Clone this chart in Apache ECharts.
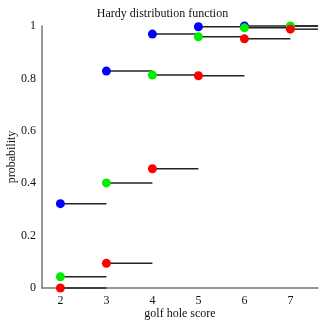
<!DOCTYPE html>
<html><head><meta charset="utf-8">
<script src="https://cdn.jsdelivr.net/npm/echarts@6/dist/echarts.min.js"></script>
<style>html,body{margin:0;padding:0;background:#fff}#c{width:325px;height:325px}</style>
</head><body><div id="c"></div>
<script>
var scores = [2, 3, 4, 5, 6, 7];
var xTicks = ['2', '3', '4', '5', '6', '7'];
var yTicks = ['0', '0.2', '0.4', '0.6', '0.8', '1'];
var blueVals = [0.322, 0.828, 0.969, 0.997, 1.0];
var greenVals = [0.043, 0.401, 0.813, 0.959, 0.993, 1.0];
var redVals = [0.0, 0.094, 0.455, 0.810, 0.951, 0.988];
var xMin = 1.6, xMax = 7.6;

function segs(vals) {
  return vals.map(function (v, i) {
    var x2 = i < vals.length - 1 ? scores[i + 1] : xMax;
    return [scores[i], x2, v];
  });
}
function pts(vals) { return vals.map(function (v, i) { return [scores[i], v]; }); }

function lineSeries(vals, z) {
  return {
    type: 'custom', z: z, silent: true,
    data: segs(vals),
    encode: { x: [0, 1], y: 2 },
    renderItem: function (params, api) {
      var a = api.coord([api.value(0), api.value(2)]);
      var b = api.coord([api.value(1), api.value(2)]);
      return { type: 'line', shape: { x1: a[0], y1: a[1], x2: b[0], y2: b[1] },
        style: { stroke: '#222', lineWidth: 1.5 } };
    }
  };
}
function dotSeries(vals, color, z) {
  return { type: 'scatter', z: z, data: pts(vals), symbolSize: 9,
    itemStyle: { color: color, opacity: 1 } };
}

var font = 'Liberation Serif';
var chart = echarts.init(document.getElementById('c'), null, { renderer: 'canvas' });
chart.setOption({
  animation: false,
  title: { text: 'Hardy distribution function', left: 'center', top: 3,
    textStyle: { fontFamily: font, fontSize: 12, fontWeight: 'normal', color: '#111' } },
  grid: { left: 42, right: 7, top: 26, bottom: 37, outerBoundsMode: 'none', containLabel: false },
  xAxis: {
    type: 'value', min: xMin, max: xMax, interval: 1,
    name: 'golf hole score', nameLocation: 'middle', nameGap: 20, nameMoveOverlap: false,
    nameTextStyle: { fontFamily: font, fontSize: 12, color: '#111' },
    axisLine: { show: true, lineStyle: { color: '#777', width: 1.5 } },
    axisTick: { show: false },
    splitLine: { show: false },
    axisLabel: { fontFamily: font, fontSize: 12, color: '#111', margin: 7,
      customValues: scores,
      formatter: function (v) { var i = scores.indexOf(v); return i >= 0 ? xTicks[i] : ''; } }
  },
  yAxis: {
    type: 'value', min: 0, max: 1, interval: 0.2,
    name: 'probability', nameLocation: 'middle', nameGap: 24, nameMoveOverlap: false,
    nameTextStyle: { fontFamily: font, fontSize: 12, color: '#111' },
    axisLine: { show: true, lineStyle: { color: '#777', width: 1.5 } },
    axisTick: { show: false },
    splitLine: { show: false },
    axisLabel: { fontFamily: font, fontSize: 12, color: '#111', margin: 6,
      formatter: function (v) { return yTicks[Math.round(v / 0.2)]; } }
  },
  series: [
    lineSeries(blueVals, 1), dotSeries(blueVals, '#0000ff', 2),
    lineSeries(greenVals, 3), dotSeries(greenVals, '#00ee00', 4),
    lineSeries(redVals, 5), dotSeries(redVals, '#ff0000', 6)
  ]
});
</script></body></html>
